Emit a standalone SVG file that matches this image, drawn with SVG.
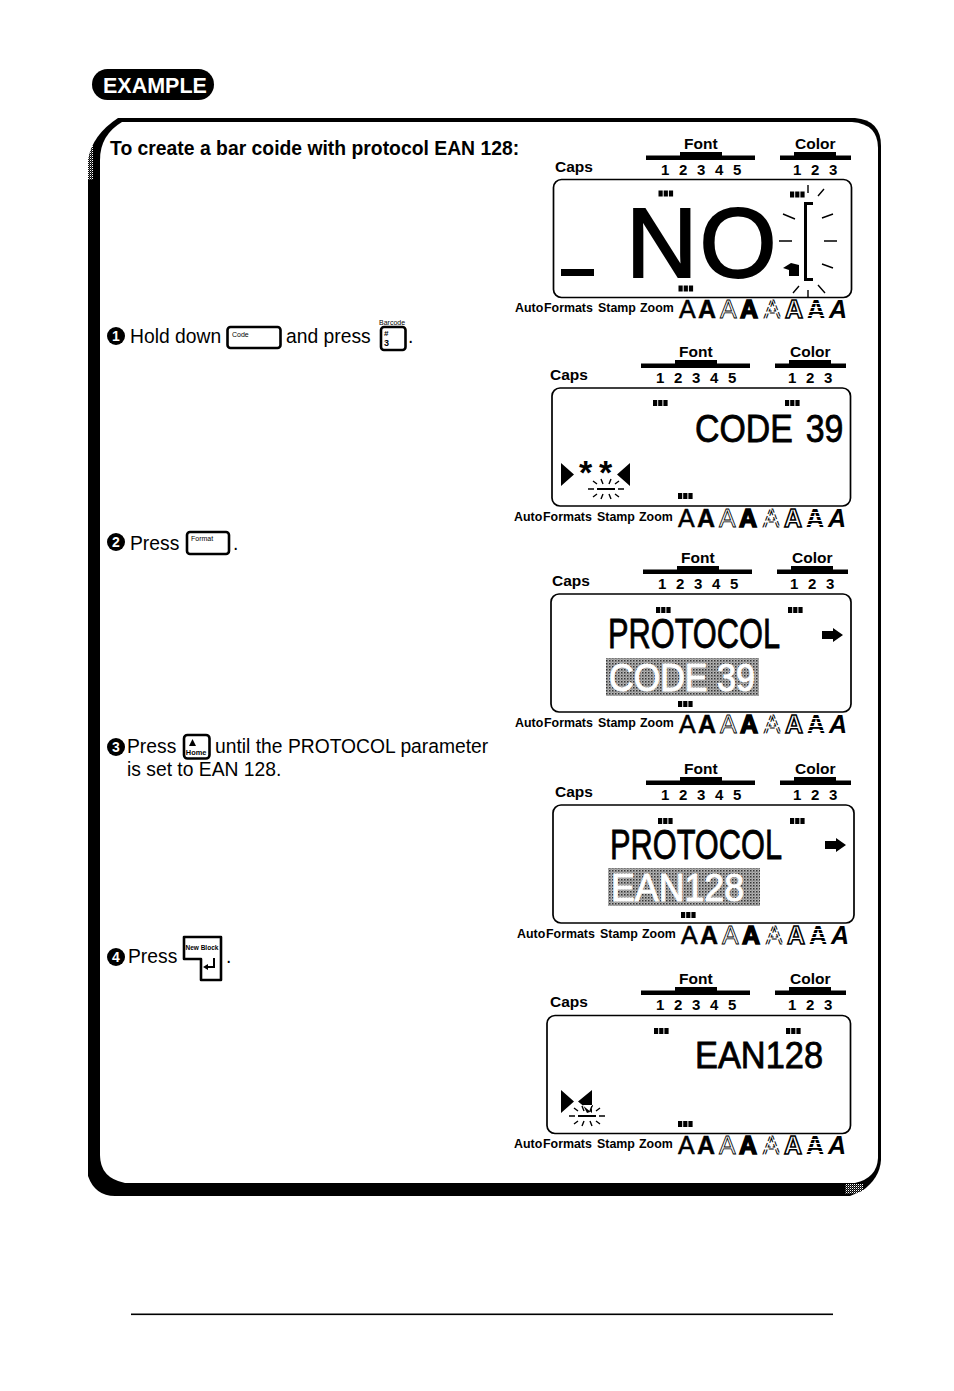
<svg xmlns="http://www.w3.org/2000/svg" width="954" height="1391" viewBox="0 0 954 1391">
<style>
text{font-family:"Liberation Sans",Arial,sans-serif;fill:#000}
.b{font-weight:bold}
.m{font-size:19.3px}
.h{font-size:15.5px;font-weight:bold}
.n{font-size:15px;font-weight:bold}
.r{font-size:12.4px;font-weight:bold}
.k{font-size:7px}
.w{fill:#fff;font-weight:bold;font-size:14px;text-anchor:middle}
.lcd{fill:#fff;stroke:#000;stroke-width:1.7}
.key{fill:#fff;stroke:#000;stroke-width:2.6;stroke-linejoin:round}
.ray{stroke:#000;stroke-width:1.4;fill:none}
.A{font-size:25px}
.a1{stroke:#000;stroke-width:.5}
.a2{font-weight:bold;stroke:#000;stroke-width:.4}
.a3{fill:#fff;stroke:#000;stroke-width:.8}
.a4{font-weight:bold;stroke:#000;stroke-width:1.5}
.a5{fill:#fff;stroke:#000;stroke-width:1;stroke-dasharray:5 2}
.a6{font-weight:bold;fill:#fff;stroke:#000;stroke-width:1.5}
.a7{font-weight:bold;fill:url(#stripe)}
.a8{font-weight:bold;font-style:italic}
.heavy{stroke:#000;stroke-width:.8}
.inv{fill:#fff;stroke:#fff;stroke-width:1;font-size:38px}
</style>
<defs>
<pattern id="stipple" width="3" height="3" patternUnits="userSpaceOnUse"><rect width="3" height="3" fill="#b4b4b4"/><rect width="1.5" height="1.5" fill="#333"/><rect x="1.5" y="1.5" width="1" height="1" fill="#666"/></pattern>
<pattern id="dither" width="2" height="2" patternUnits="userSpaceOnUse"><rect width="1" height="1" fill="#fff"/><rect x="1" y="1" width=".6" height=".6" fill="#fff"/></pattern>
<pattern id="stripe" width="4" height="4" patternUnits="userSpaceOnUse"><rect width="4" height="3" fill="#000"/><rect y="3" width="4" height="1" fill="#fff"/></pattern>
<g id="tri"><rect width="4.2" height="6"/><rect x="5.2" width="4.2" height="6"/><rect x="10.4" width="4.2" height="6"/></g>
<g id="cursor"><path class="ray" d="M-18 0H-12M12 0H18M-13-8L-9-5M13-8L9-5M-5-10L-3-5M5-10L3-5M-13 8L-9 5M13 8L9 5M-5 10L-3 5M5 10L3 5"/><rect x="-9" y="-1" width="18" height="2"/></g>
<path id="arrow" d="M0 3H11V0L21 7L11 14V11H0Z"/>
</defs>
<rect width="954" height="1391" fill="#fff"/>
<g id="example-badge">
<rect x="92" y="69" width="122" height="31" rx="15.5"/>
<text x="103" y="92.500" class="b" font-size="21.500" style="fill:#fff">EXAMPLE</text>
</g>
<g id="frame">
<path fill="#000" d="M118 118H855Q881 120 881 146V1160Q880 1178 862 1191L850 1196H115Q95 1196 88 1176V160Q92 135 118 118Z"/>
<path fill="#fff" d="M122 122H852Q878 124 878 148V1158Q877 1178 855 1183H125Q100 1178 100 1155V160Q100 135 122 122Z"/>
<rect x="88" y="140" width="5" height="40" fill="url(#dither)"/>
<rect x="845" y="1184" width="18" height="10" fill="url(#dither)"/>
</g>
<g id="title"><text x="110" y="155" class="b" font-size="19.350">To create a bar coide with protocol EAN 128:</text></g>
<g id="step1">
<circle cx="116" cy="336" r="9"/><text x="116" y="341" class="w">1</text>
<text x="130" y="343" class="m">Hold down</text>
<rect class="key" x="227.500" y="327" width="53" height="21" rx="3"/><text x="232" y="337" class="k">Code</text>
<text x="286" y="343" class="m">and press</text>
<text x="379" y="324.500" class="k">Barcode</text>
<rect class="key" x="381" y="327" width="24.500" height="23" rx="3"/><text x="384" y="336" font-size="8" class="b">#</text><text x="384" y="346" font-size="9" class="b">3</text>
<text x="408" y="343" class="m">.</text>
</g>
<g id="step2">
<circle cx="116" cy="542" r="9"/><text x="116" y="547" class="w">2</text>
<text x="130" y="550" class="m">Press</text>
<rect class="key" x="187" y="532" width="42" height="22" rx="3"/><text x="191" y="541" class="k">Format</text>
<text x="233" y="550" class="m">.</text>
</g>
<g id="step3">
<circle cx="116" cy="747" r="9"/><text x="116" y="752" class="w">3</text>
<text x="127" y="753" class="m">Press</text>
<rect class="key" x="184" y="735" width="25.500" height="23.500" rx="3.500"/><path d="M193 746L196.500 739L200 746Z" transform="translate(-4 0)"/><text x="185.800" y="755" font-size="7.400" class="b">Home</text>
<text x="215" y="753" class="m">until the PROTOCOL parameter</text>
<text x="127" y="776" class="m">is set to EAN 128.</text>
</g>
<g id="step4">
<circle cx="116" cy="957" r="9"/><text x="116" y="962" class="w">4</text>
<text x="128" y="963" class="m">Press</text>
<path class="key" d="M184 937H221V980H201V959H184Z"/>
<text x="185.500" y="950" font-size="6.500" class="b">New Block</text>
<path d="M213 958V966H208V964L203 967L208 970V968H215V958Z"/>
<text x="226" y="963" class="m">.</text>
</g>
<g id="lcd1">
<text x="555" y="172" class="h">Caps</text>
<text x="684" y="149" class="h">Font</text>
<rect x="646" y="155.500" width="109" height="4.500"/><rect x="680" y="152" width="42" height="5"/>
<text x="661" y="175" class="n">1</text><text x="679" y="175" class="n">2</text><text x="697" y="175" class="n">3</text><text x="715" y="175" class="n">4</text><text x="733" y="175" class="n">5</text>
<text x="795" y="149" class="h">Color</text>
<rect x="780" y="155.500" width="71" height="4.500"/><rect x="794" y="152" width="42" height="5"/>
<text x="793" y="175" class="n">1</text><text x="811" y="175" class="n">2</text><text x="829" y="175" class="n">3</text>
<rect class="lcd" x="553.500" y="179.500" width="298" height="118" rx="8"/>
<use href="#tri" x="658.500" y="190.500"/><use href="#tri" x="678.500" y="285.500"/><use href="#tri" x="790" y="191.500"/>
<rect x="561" y="269" width="33" height="7"/>
<text x="626" y="277" font-size="99" letter-spacing="2" stroke="#000" stroke-width="2">NO</text>
<path d="M813 203.500H805.500V279.500H813" fill="none" stroke="#000" stroke-width="3"/>
<path class="ray" d="M808 185V193M818 196L824 189M822 218L833 214M824 241H837M822 264L833 268M818 285L825 293M808 290V298M793 293L799 286M779 241H792M783 214L795 219"/>
<path d="M783 268L791 263L799 265V276H789V270Z"/>
<g id="row1"><text x="515" y="312" class="r">Auto</text><text x="544" y="312" class="r">Formats</text><text x="598" y="312" class="r">Stamp</text><text x="640" y="312" class="r">Zoom</text>
<text x="679" y="318" class="A a1">A</text><text x="698" y="318" class="A a2">A</text><text x="720" y="318" class="A a3">A</text><text x="740" y="318" class="A a4">A</text><text x="764" y="318" class="A a5">A</text><text x="785" y="318" class="A a6">A</text><text x="807" y="318" class="A a7">A</text><text x="829" y="318" class="A a8">A</text></g>
</g>
<g id="lcd2">
<g transform="translate(-5 208)">
<text x="555" y="172" class="h">Caps</text>
<text x="684" y="149" class="h">Font</text>
<rect x="646" y="155.500" width="109" height="4.500"/><rect x="680" y="152" width="42" height="5"/>
<text x="661" y="175" class="n">1</text><text x="679" y="175" class="n">2</text><text x="697" y="175" class="n">3</text><text x="715" y="175" class="n">4</text><text x="733" y="175" class="n">5</text>
<text x="795" y="149" class="h">Color</text>
<rect x="780" y="155.500" width="71" height="4.500"/><rect x="794" y="152" width="42" height="5"/>
<text x="793" y="175" class="n">1</text><text x="811" y="175" class="n">2</text><text x="829" y="175" class="n">3</text>
</g>
<rect class="lcd" x="552" y="388" width="298.500" height="118" rx="8"/>
<use href="#tri" x="653" y="400"/><use href="#tri" x="785" y="400"/><use href="#tri" x="678" y="493"/>
<text transform="translate(695 442) scale(.89 1)" font-size="38" class="heavy">CODE<tspan dx="4"> 39</tspan></text>
<path d="M561 463L574 474.500L561 486ZM630 463L617 474.500L630 486Z"/>
<text x="579" y="484" font-size="34" class="b">*</text><text x="599" y="484" font-size="34" class="b">*</text>
<use href="#cursor" x="606" y="489"/>
<g transform="translate(-1 209)"><text x="515" y="312" class="r">Auto</text><text x="544" y="312" class="r">Formats</text><text x="598" y="312" class="r">Stamp</text><text x="640" y="312" class="r">Zoom</text>
<text x="679" y="318" class="A a1">A</text><text x="698" y="318" class="A a2">A</text><text x="720" y="318" class="A a3">A</text><text x="740" y="318" class="A a4">A</text><text x="764" y="318" class="A a5">A</text><text x="785" y="318" class="A a6">A</text><text x="807" y="318" class="A a7">A</text><text x="829" y="318" class="A a8">A</text></g>
</g>
<g id="lcd3">
<g transform="translate(-3 414)">
<text x="555" y="172" class="h">Caps</text>
<text x="684" y="149" class="h">Font</text>
<rect x="646" y="155.500" width="109" height="4.500"/><rect x="680" y="152" width="42" height="5"/>
<text x="661" y="175" class="n">1</text><text x="679" y="175" class="n">2</text><text x="697" y="175" class="n">3</text><text x="715" y="175" class="n">4</text><text x="733" y="175" class="n">5</text>
<text x="795" y="149" class="h">Color</text>
<rect x="780" y="155.500" width="71" height="4.500"/><rect x="794" y="152" width="42" height="5"/>
<text x="793" y="175" class="n">1</text><text x="811" y="175" class="n">2</text><text x="829" y="175" class="n">3</text>
</g>
<rect class="lcd" x="551" y="594" width="300" height="118" rx="8"/>
<use href="#tri" x="656" y="607"/><use href="#tri" x="788" y="607"/><use href="#tri" x="678" y="701"/>
<text x="608" y="648" font-size="42" class="heavy" textLength="172" lengthAdjust="spacingAndGlyphs">PROTOCOL</text>
<use href="#arrow" x="822" y="628"/>
<rect x="606" y="658" width="153" height="38" fill="url(#stipple)"/>
<text x="609" y="691" class="inv" textLength="146" lengthAdjust="spacingAndGlyphs">CODE 39</text>
<g transform="translate(0 415)"><text x="515" y="312" class="r">Auto</text><text x="544" y="312" class="r">Formats</text><text x="598" y="312" class="r">Stamp</text><text x="640" y="312" class="r">Zoom</text>
<text x="679" y="318" class="A a1">A</text><text x="698" y="318" class="A a2">A</text><text x="720" y="318" class="A a3">A</text><text x="740" y="318" class="A a4">A</text><text x="764" y="318" class="A a5">A</text><text x="785" y="318" class="A a6">A</text><text x="807" y="318" class="A a7">A</text><text x="829" y="318" class="A a8">A</text></g>
</g>
<g id="lcd4">
<g transform="translate(0 625)">
<text x="555" y="172" class="h">Caps</text>
<text x="684" y="149" class="h">Font</text>
<rect x="646" y="155.500" width="109" height="4.500"/><rect x="680" y="152" width="42" height="5"/>
<text x="661" y="175" class="n">1</text><text x="679" y="175" class="n">2</text><text x="697" y="175" class="n">3</text><text x="715" y="175" class="n">4</text><text x="733" y="175" class="n">5</text>
<text x="795" y="149" class="h">Color</text>
<rect x="780" y="155.500" width="71" height="4.500"/><rect x="794" y="152" width="42" height="5"/>
<text x="793" y="175" class="n">1</text><text x="811" y="175" class="n">2</text><text x="829" y="175" class="n">3</text>
</g>
<rect class="lcd" x="553" y="805" width="301" height="118" rx="8"/>
<use href="#tri" x="658" y="818"/><use href="#tri" x="790" y="818"/><use href="#tri" x="681" y="912"/>
<text x="610" y="859" font-size="42" class="heavy" textLength="172" lengthAdjust="spacingAndGlyphs">PROTOCOL</text>
<use href="#arrow" x="825" y="838"/>
<rect x="608" y="868" width="152" height="38" fill="url(#stipple)"/>
<text x="611" y="901" class="inv" textLength="133" lengthAdjust="spacingAndGlyphs">EAN128</text>
<g transform="translate(2 626)"><text x="515" y="312" class="r">Auto</text><text x="544" y="312" class="r">Formats</text><text x="598" y="312" class="r">Stamp</text><text x="640" y="312" class="r">Zoom</text>
<text x="679" y="318" class="A a1">A</text><text x="698" y="318" class="A a2">A</text><text x="720" y="318" class="A a3">A</text><text x="740" y="318" class="A a4">A</text><text x="764" y="318" class="A a5">A</text><text x="785" y="318" class="A a6">A</text><text x="807" y="318" class="A a7">A</text><text x="829" y="318" class="A a8">A</text></g>
</g>
<g id="lcd5">
<g transform="translate(-5 835)">
<text x="555" y="172" class="h">Caps</text>
<text x="684" y="149" class="h">Font</text>
<rect x="646" y="155.500" width="109" height="4.500"/><rect x="680" y="152" width="42" height="5"/>
<text x="661" y="175" class="n">1</text><text x="679" y="175" class="n">2</text><text x="697" y="175" class="n">3</text><text x="715" y="175" class="n">4</text><text x="733" y="175" class="n">5</text>
<text x="795" y="149" class="h">Color</text>
<rect x="780" y="155.500" width="71" height="4.500"/><rect x="794" y="152" width="42" height="5"/>
<text x="793" y="175" class="n">1</text><text x="811" y="175" class="n">2</text><text x="829" y="175" class="n">3</text>
</g>
<rect class="lcd" x="547" y="1015.500" width="303.500" height="118" rx="8"/>
<use href="#tri" x="654" y="1028"/><use href="#tri" x="786" y="1028"/><use href="#tri" x="678" y="1121"/>
<text x="695" y="1068" font-size="37" class="heavy" textLength="128" lengthAdjust="spacingAndGlyphs">EAN128</text>
<path d="M561 1090L574 1101.500L561 1113ZM592 1090L578 1101.500L592 1113ZM583 1105H593L590 1112L587 1113Z"/>
<use href="#cursor" x="587" y="1116"/>
<g transform="translate(-1 836)"><text x="515" y="312" class="r">Auto</text><text x="544" y="312" class="r">Formats</text><text x="598" y="312" class="r">Stamp</text><text x="640" y="312" class="r">Zoom</text>
<text x="679" y="318" class="A a1">A</text><text x="698" y="318" class="A a2">A</text><text x="720" y="318" class="A a3">A</text><text x="740" y="318" class="A a4">A</text><text x="764" y="318" class="A a5">A</text><text x="785" y="318" class="A a6">A</text><text x="807" y="318" class="A a7">A</text><text x="829" y="318" class="A a8">A</text></g>
</g>
<g id="footer-rule"><rect x="131" y="1313.500" width="702" height="1.600"/></g>
</svg>
